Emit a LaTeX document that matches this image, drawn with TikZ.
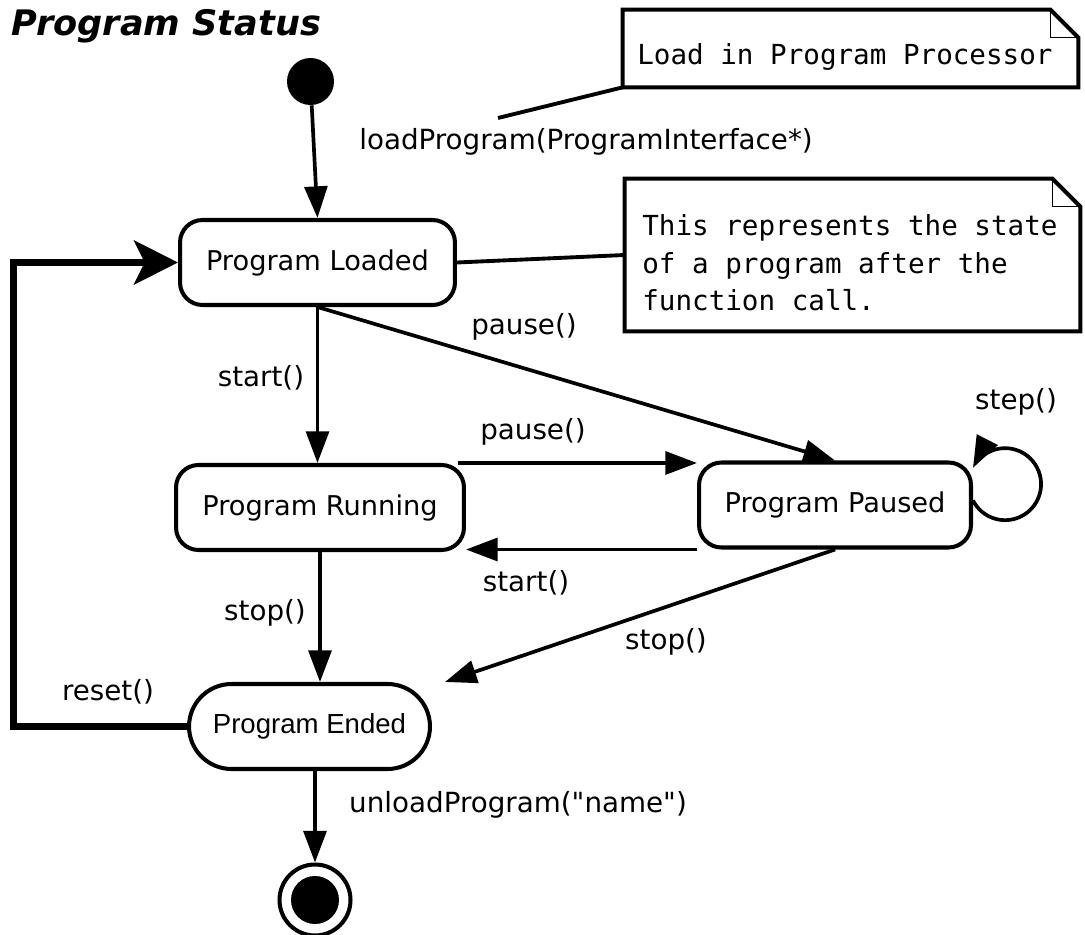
\documentclass[tikz,border=0pt]{standalone}
\usepackage{fontspec}
\setmainfont{DejaVu Sans}
\newfontfamily\monofont{DejaVu Sans Mono}
\newfontfamily\arialfont{Liberation Sans}
\usetikzlibrary{positioning, arrows.meta}

\begin{document}
\begin{tikzpicture}[x=0.02cm, y=0.02cm,
    state/.style={draw, line width=2.3pt, rounded corners=0.45cm, fill=white, minimum height=1.7cm, inner sep=0pt, font=\fontsize{15.5}{18}\selectfont},
    trans/.style={line width=2.1pt, -{Triangle[length=18pt, width=13pt]}},
    lbl/.style={inner sep=0pt, font=\fontsize{15.8}{18}\selectfont},
    note/.style={line width=2.3pt},
    notetext/.style={inner sep=0pt, align=left, font=\monofont\fontsize{15.7}{21.5}\selectfont}]

    \useasboundingbox (0,0) rectangle (1085,-935);

    % Title
    \node[anchor=base west, inner sep=0pt, font=\bfseries\itshape\fontsize{20}{24}\selectfont] (title) at (11,-36) {Program Status};

    % Start and end points
    \node[circle, fill, minimum size=0.94cm, inner sep=0pt] (init) at (310.5,-81.5) {};
    \node[circle, draw, line width=2.3pt, minimum size=1.42cm, inner sep=0pt] (final) at (315,-900) {};
    \fill (final) circle (0.48cm);

    % States
    \node[state, minimum width=5.5cm] (loaded) at (317.5,-262.5) {Program Loaded};
    \node[state, minimum width=5.76cm] (running) at (320,-507.5) {Program Running};
    \node[state, minimum width=5.44cm] (paused) at (835,-505) {Program Paused};
    \node[state, rounded corners=0.85cm, minimum width=4.82cm, font=\arialfont\fontsize{15.7}{18}\selectfont] (ended) at (309.5,-726.5) {Program Ended};

    % Notes
    \node[minimum width=9.1cm, minimum height=1.54cm, inner sep=0pt] (note1) at (850.5,-48.5) {};
    \draw[note] (note1.north west) -- ([xshift=-0.56cm]note1.north east) -- ([yshift=-0.56cm]note1.north east) -- (note1.south east) -- (note1.south west) -- cycle;
    \draw[line width=0.8pt] ([xshift=-0.56cm]note1.north east) |- ([yshift=-0.56cm]note1.north east);
    \node[notetext, anchor=base west] (note1txt) at (637,-65) {Load in Program Processor};

    \node[minimum width=9.1cm, minimum height=3.04cm, inner sep=0pt] (note2) at (852.5,-255) {};
    \draw[note] (note2.north west) -- ([xshift=-0.56cm]note2.north east) -- ([yshift=-0.56cm]note2.north east) -- (note2.south east) -- (note2.south west) -- cycle;
    \draw[line width=0.8pt] ([xshift=-0.56cm]note2.north east) |- ([yshift=-0.56cm]note2.north east);
    \node[notetext, anchor=north west] (note2txt) at (642,-214) {This represents the state\\of a program after the\\function call.};

    \coordinate (lp) at (498,-118);
    \draw[line width=2.2pt] (lp) -- (note1.south west);
    \draw[line width=2.2pt] (loaded.east) -- (note2.west);

    % Transitions
    \draw[trans] (init) -- (loaded.north);
    \draw[trans] (loaded.south) -- (loaded.south |- running.north);
    \draw[trans] (loaded.south) -- (paused.north);
    \draw[trans] ([xshift=-0.16cm]running.north east) -- (running.north east -| paused.west);
    \draw[trans] (paused.south west) -- (paused.south west -| running.east);
    \draw[trans] (running.south) -- (running.south |- ended.north);
    \draw[trans] (paused.south) -- ([xshift=0.26cm]ended.north east);
    \draw[trans] ([yshift=0.09cm]paused.east) arc[start angle=207, end angle=513, radius=0.72cm];
    \draw[trans] (final |- ended.south) -- (final);
    \coordinate (rl) at (13.5,0);
    \draw[line width=3.8pt, -{Stealth[length=25pt, width=25pt, inset=6pt]}] (ended.west) -- (ended.west -| rl) |- (loaded.west);

    % Labels
    \node[lbl] (lload) at (586,-142) {loadProgram(ProgramInterface*)};
    \node[lbl] (lstart1) at (261,-378) {start()};
    \node[lbl] (lpause1) at (524,-327) {pause()};
    \node[lbl] (lpause2) at (533,-432) {pause()};
    \node[lbl] (lstep) at (1016,-402) {step()};
    \node[lbl] (lstart2) at (526,-583) {start()};
    \node[lbl] (lstop1) at (265,-613) {stop()};
    \node[lbl] (lstop2) at (666,-642) {stop()};
    \node[lbl] (lreset) at (108,-692) {reset()};
    \node[lbl] (lunload) at (518,-805) {unloadProgram(\textquotedbl name\textquotedbl)};
\end{tikzpicture}
\end{document}
